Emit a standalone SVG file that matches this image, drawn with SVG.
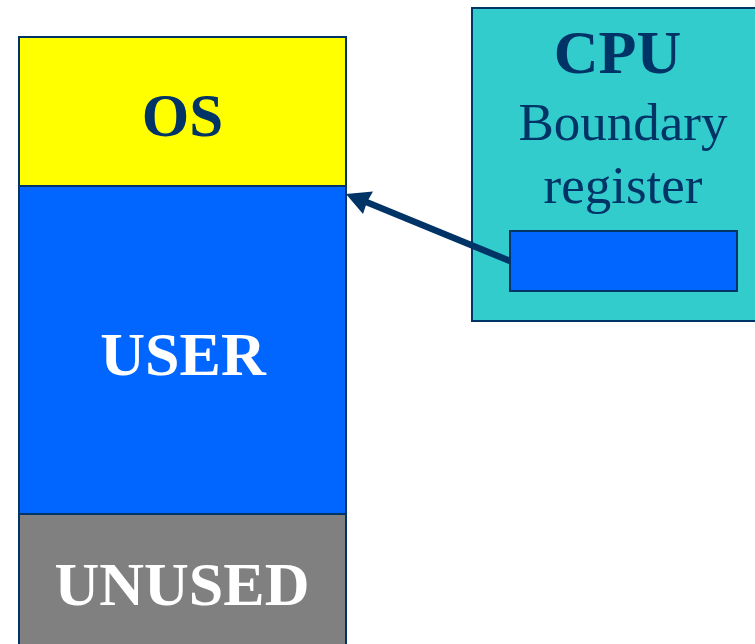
<svg xmlns="http://www.w3.org/2000/svg" width="755" height="644" viewBox="0 0 755 644">
<style>
.box{stroke:#003366;stroke-width:2}
.t{font-family:"Liberation Serif","Times New Roman",serif;text-anchor:middle}
.b{font-weight:bold}
.conn{stroke:#003366;stroke-width:6.5;fill:none}
.head{fill:#003366}
</style>
<rect width="755" height="644" fill="#ffffff"/>
<g id="os">
<rect class="box" x="19" y="37" width="327" height="149" fill="#FFFF00"/>
<text class="t b" x="182.5" y="136" font-size="61" fill="#003366">OS</text>
</g>
<g id="user">
<rect class="box" x="19" y="186" width="327" height="328" fill="#0066FF"/>
<text class="t b" x="183" y="375" font-size="62" fill="#ffffff">USER</text>
</g>
<g id="unused">
<rect class="box" x="19" y="514" width="327" height="140" fill="#808080"/>
<text class="t b" x="182" y="605" font-size="62" fill="#ffffff">UNUSED</text>
</g>
<g id="cpu">
<rect class="box" x="472" y="8" width="293" height="313" fill="#33CCCC"/>
<text class="t b" x="617.5" y="73" font-size="62" fill="#003366">CPU</text>
<text class="t" x="623" y="140" font-size="53" fill="#003366">Boundary</text>
<text class="t" x="623" y="203" font-size="53" fill="#003366">register</text>
</g>
<g id="register">
<rect class="box" x="510" y="231" width="227" height="60" fill="#0066FF"/>
</g>
<g id="connectors">
<line class="conn" x1="510" y1="261" x2="365" y2="201.5"/>
<path class="head" d="M346,194 L373,191.5 L367,202 L363,214 Z"/>
</g>
</svg>
